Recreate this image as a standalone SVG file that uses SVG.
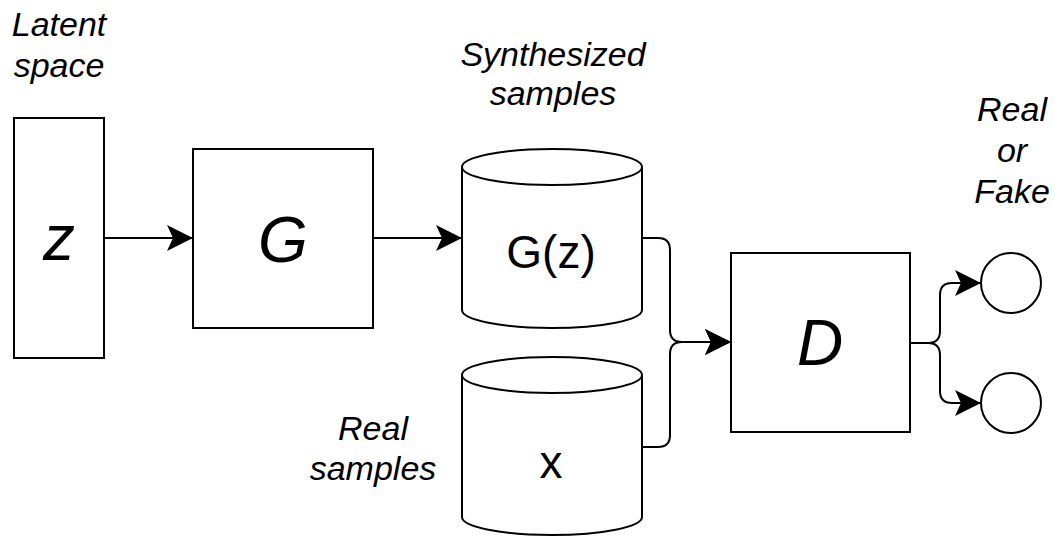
<svg xmlns="http://www.w3.org/2000/svg" width="1055" height="536" viewBox="0 0 1055 536">
<style>
.shape{fill:#ffffff;stroke:#000000;stroke-width:2}
.edge{fill:none;stroke:#000000;stroke-width:2}
.lbl{font-family:"Liberation Sans",Arial,sans-serif;font-size:34px;font-style:italic;fill:#000000;text-anchor:middle}
.big{font-family:"Liberation Sans",Arial,sans-serif;font-size:64px;font-style:italic;fill:#000000;text-anchor:middle}
.mid{font-family:"Liberation Sans",Arial,sans-serif;font-size:46px;fill:#000000;text-anchor:middle}
</style>
<defs>
<marker id="arrow" viewBox="0 0 26 26" markerWidth="26" markerHeight="26" refX="25" refY="13" orient="auto" markerUnits="userSpaceOnUse">
<path d="M0,0 L26,13 L0,26 L6,13 Z" fill="#000000"/>
</marker>
</defs>
<g id="connectors">
<path class="edge" d="M104,238 H192" marker-end="url(#arrow)"/>
<path class="edge" d="M373,238 H461" marker-end="url(#arrow)"/>
<path class="edge" d="M642,238 H658 Q670,238 670,250 V330 Q670,342 682,342 H730" marker-end="url(#arrow)"/>
<path class="edge" d="M642,447 H658 Q670,447 670,435 V354 Q670,342 682,342 H730" marker-end="url(#arrow)"/>
<path class="edge" d="M910,343 H928 Q940,343 940,331 V295 Q940,283 952,283 H980" marker-end="url(#arrow)"/>
<path class="edge" d="M910,343 H928 Q940,343 940,355 V391 Q940,403 952,403 H980" marker-end="url(#arrow)"/>
</g>
<g id="latent-label">
<text class="lbl" x="59" y="36">Latent</text>
<text class="lbl" x="59" y="77">space</text>
</g>
<g id="z">
<rect class="shape" x="14" y="118" width="90" height="240"/>
<text class="big" x="59" y="260">z</text>
</g>
<g id="G">
<rect class="shape" x="193" y="149" width="180" height="179"/>
<text class="big" x="283" y="262">G</text>
</g>
<g id="synth-label">
<text class="lbl" x="553" y="66">Synthesized</text>
<text class="lbl" x="553" y="105">samples</text>
</g>
<g id="Gz">
<path class="shape" d="M462,167 A90,18 0 0 1 642,167 V310 A90,18 0 0 1 462,310 Z"/>
<path class="edge" d="M462,167 A90,18 0 0 0 642,167"/>
<text class="mid" x="551" y="268">G(z)</text>
</g>
<g id="x">
<path class="shape" d="M462,375 A90,18 0 0 1 642,375 V517 A90,18 0 0 1 462,517 Z"/>
<path class="edge" d="M462,375 A90,18 0 0 0 642,375"/>
<text class="mid" x="551" y="478">x</text>
</g>
<g id="real-label">
<text class="lbl" x="373" y="440">Real</text>
<text class="lbl" x="373" y="480">samples</text>
</g>
<g id="D">
<rect class="shape" x="731" y="253" width="179" height="179"/>
<text class="big" x="820" y="365">D</text>
</g>
<g id="out-real">
<circle class="shape" cx="1011" cy="283" r="30"/>
</g>
<g id="out-fake">
<circle class="shape" cx="1011" cy="403" r="30"/>
</g>
<g id="rf-label">
<text class="lbl" x="1012" y="121">Real</text>
<text class="lbl" x="1012" y="162">or</text>
<text class="lbl" x="1012" y="203">Fake</text>
</g>
</svg>
